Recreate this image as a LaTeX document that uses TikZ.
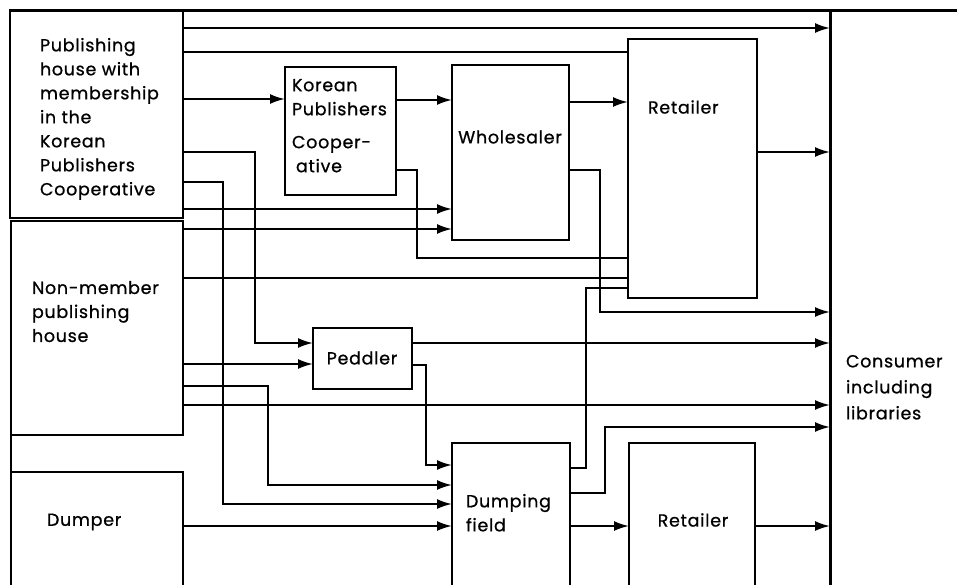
\documentclass[tikz,border=0pt]{standalone}
\usepackage{fontspec}
\setmainfont{Poppins}[LetterSpace=4, FakeBold=0.8]
\usetikzlibrary{arrows.meta}
\begin{document}
\begin{tikzpicture}[x=1pt,y=-1pt,
  box/.style={draw, rectangle, line width=2.8pt, inner sep=0pt, outer sep=0pt, anchor=north west},
  conn/.style={line width=2pt},
  arr/.style={conn, -{Latex[length=15pt,width=10pt]}},
  txt/.style={inner sep=0pt, outer sep=0pt, align=left, font=\fontsize{17.5}{24}\selectfont},
]
\useasboundingbox (0,0) rectangle (957,584);
\clip (0,0) rectangle (957,584);

% boxes
\node[box, minimum width=173pt, minimum height=208pt] (mem) at (10,10) {};
\node[box, minimum width=172pt, minimum height=214pt] (non) at (11,221) {};
\node[box, minimum width=172pt, minimum height=140pt] (dumper) at (11,472) {};
\node[box, minimum width=111pt, minimum height=128pt] (kpc) at (285,67) {};
\node[box, minimum width=117pt, minimum height=175pt] (whole) at (452,65) {};
\node[box, minimum width=129pt, minimum height=259pt] (ret1) at (628,39) {};
\node[box, minimum width=99pt, minimum height=61pt] (ped) at (313,328) {};
\node[box, minimum width=118pt, minimum height=160pt] (dump) at (452,443) {};
\node[box, minimum width=126pt, minimum height=160pt] (ret2) at (629,443) {};
\node[box, line width=3pt, minimum width=160pt, minimum height=600pt] (cons) at (830,10) {};

% frame
\draw[line width=3pt] (mem.north west) -- (cons.north west);
\draw[line width=2.8pt] (non.south west) -- (dumper.north west);

% texts
\node[txt, anchor=north west] (memt) at (40,38) {Publishing\\house with\\membership\\in the\\Korean\\Publishers\\Cooperative};
\node[txt, anchor=north west] (nont) at (32,281) {Non-member\\publishing\\house};
\node[txt, anchor=north west] (kpct) at (292,79) {Korean\\Publishers\\[9pt]Cooper-\\\hspace*{4pt}ative};
\node[txt, anchor=center] (wholet) at (510,137) {Wholesaler};
\node[txt, anchor=west] (ret1t) at (648,107) {Retailer};
\node[txt, anchor=center] (pedt) at (362,358) {Peddler};
\node[txt, anchor=north west] (dumpt) at (466,494) {Dumping\\field};
\node[txt, anchor=center] (ret2t) at (693,520) {Retailer};
\node[txt, anchor=west] (dumpert) at (47,522) {Dumper};
\node[txt, anchor=north west] (const) at (846,355) {Consumer\\[2pt]including\\[2pt]libraries};

% connectors
\draw[arr] (mem.east |- 0,28) -- (cons.west |- 0,28);
\draw[conn] (mem.east |- 0,52) -- (ret1.west |- 0,52);
\draw[arr] (mem.east |- 0,99) -- (kpc.west |- 0,99);
\draw[arr] (kpc.east |- 0,100) -- (whole.west |- 0,100);
\draw[arr] (whole.east |- 0,102) -- (ret1.west |- 0,102);
\draw[arr] (ret1.east |- 0,152) -- (cons.west |- 0,152);
\draw[arr] (mem.east |- 0,152) -| (255,343) -- (ped.west |- 0,343);
\draw[arr] (mem.east |- 0,182) -| (223,504) -- (dump.west |- 0,504);
\draw[arr] (mem.east |- 0,209) -- (whole.west |- 0,209);
\draw[arr] (non.east |- 0,229) -- (whole.west |- 0,229);
\draw[conn] (kpc.east |- 0,170) -| (417,258) -- (ret1.west |- 0,258);
\draw[conn] (non.east |- 0,278) -- (ret1.west |- 0,278);
\draw[arr] (whole.east |- 0,170) -| (600,312) -- (cons.west |- 0,312);
\draw[conn] (dump.east |- 0,468) -| (586,288) -- (ret1.west |- 0,288);
\draw[arr] (non.east |- 0,364) -- (ped.west |- 0,364);
\draw[arr] (non.east |- 0,386) -| (268,485) -- (dump.west |- 0,485);
\draw[arr] (non.east |- 0,405) -- (cons.west |- 0,405);
\draw[arr] (ped.east |- 0,343) -- (cons.west |- 0,343);
\draw[arr] (ped.east |- 0,365) -| (426,465) -- (dump.west |- 0,465);
\draw[arr] (dump.east |- 0,493) -| (605,427) -- (cons.west |- 0,427);
\draw[arr] (dump.east |- 0,526) -- (ret2.west |- 0,526);
\draw[arr] (ret2.east |- 0,526) -- (cons.west |- 0,526);
\draw[arr] (dumper.east |- 0,526) -- (dump.west |- 0,526);
\end{tikzpicture}
\end{document}
